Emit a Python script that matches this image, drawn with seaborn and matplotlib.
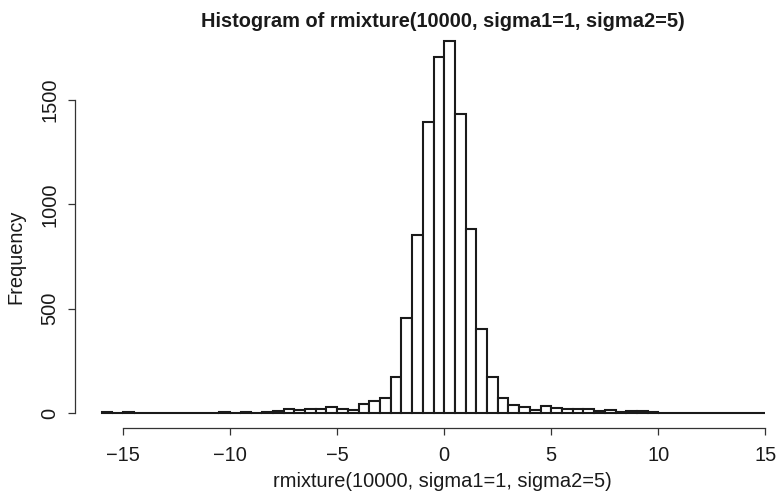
import numpy as np
import pandas as pd
import matplotlib
matplotlib.use("Agg")
import matplotlib.pyplot as plt
import seaborn as sns

# Histogram bins: width 0.5 starting at -16
bin_start = -16.0
bin_width = 0.5
counts = [
    4, 1, 3, 1, 1, 2, 1, 1, 2, 1,          # -16 .. -11
    2, 6, 2, 5, 2, 6, 12, 19, 16, 18,      # -11 .. -6
    18, 27, 20, 15, 44, 56, 73, 171, 458, 856,   # -6 .. -1
    1393, 1705, 1784, 1433, 883, 402, 171, 73, 40, 28,  # -1 .. 4
    17, 33, 23, 18, 18, 19, 9, 17, 5, 12,  # 4 .. 9
    12, 3, 2, 1, 1, 2, 1, 1, 1, 0,         # 9 .. 14
    1, 1,                                  # 14 .. 15
]
x_ticks = [-15, -10, -5, 0, 5, 10, 15]
y_ticks = [0, 500, 1000, 1500]
title = "Histogram of rmixture(10000, sigma1=1, sigma2=5)"
x_label = "rmixture(10000, sigma1=1, sigma2=5)"
y_label = "Frequency"

edges = [bin_start + bin_width * i for i in range(len(counts) + 1)]
centers = [e + bin_width / 2 for e in edges[:-1]]
df = pd.DataFrame({"value": centers, "count": counts})

sns.set_theme(style="ticks")
plt.rcParams["font.family"] = ["Liberation Sans", "DejaVu Sans"]

W, H = 784, 492
fig = plt.figure(figsize=(W / 100, H / 100), dpi=100)
left_px, right_px, top_px, bottom_px = 75, 792, 26, 428
ax = fig.add_axes([left_px / W, (H - bottom_px) / H,
                   (right_px - left_px) / W, (bottom_px - top_px) / H])

sns.histplot(data=df, x="value", weights="count", bins=edges,
             color="white", edgecolor="#1a1a1a", linewidth=1.5,
             alpha=1, ax=ax)

# R-style extended ranges (4% on each side)
xr = edges[-1] - edges[0]
ax.set_xlim(edges[0] - 0.04 * xr, edges[-1] + 0.04 * xr)
ymax = max(counts)
ax.set_ylim(-0.04 * ymax, 1.04 * ymax)

for s in ["top", "right"]:
    ax.spines[s].set_visible(False)
ax.spines["left"].set_bounds(y_ticks[0], y_ticks[-1])
ax.spines["bottom"].set_bounds(x_ticks[0], x_ticks[-1])
for s in ["left", "bottom"]:
    ax.spines[s].set_linewidth(0.9)
    ax.spines[s].set_color("#333333")

fs = 14.4
ax.set_xticks(x_ticks)
ax.set_xticklabels([str(v).replace("-", "\u2212") for v in x_ticks])
ax.set_yticks(y_ticks)
ax.set_yticklabels([str(v) for v in y_ticks], rotation=90, va="center")
ax.tick_params(axis="both", direction="out", length=5, width=0.9,
               color="#333333", labelsize=fs, labelcolor="#1a1a1a")
ax.tick_params(axis="x", pad=8)
ax.tick_params(axis="y", pad=6)

ax.set_xlabel("")
ax.set_ylabel("")
fig.text(442.5 / W, 1 - 487 / H, x_label, ha="center", va="baseline",
         fontsize=fs, color="#1a1a1a")
fig.text(21 / W, 1 - 257 / H, y_label, ha="center", va="baseline",
         rotation=90, fontsize=fs, color="#1a1a1a",
         rotation_mode="anchor")
fig.text(442.5 / W, 1 - 27 / H, title, ha="center", va="baseline",
         fontsize=fs, fontweight="bold", color="#1a1a1a")

fig.savefig("out.png", dpi=100)
